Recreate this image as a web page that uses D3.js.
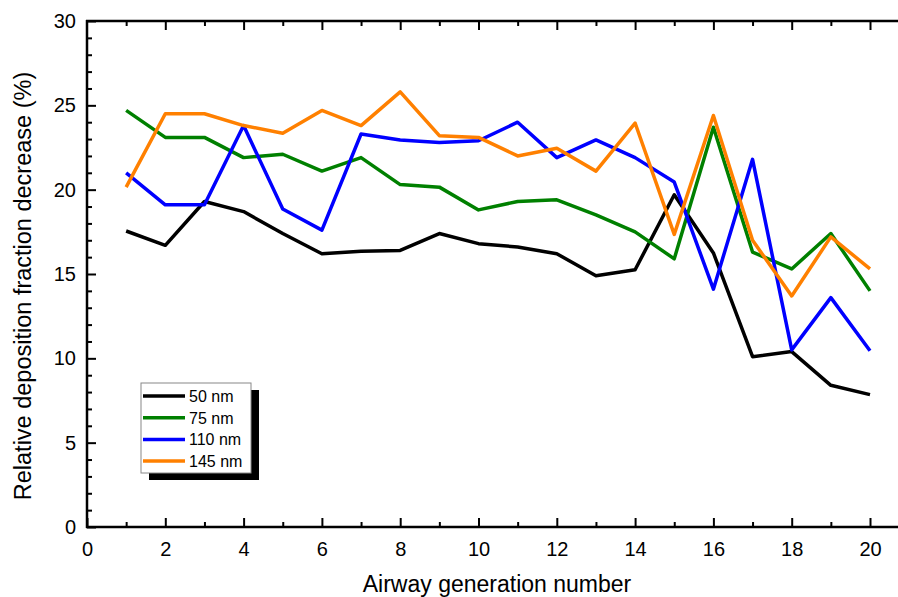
<!DOCTYPE html>
<html>
<head>
<meta charset="utf-8">
<style>
body { margin: 0; background: #fff; }
svg { display: block; font-family: Arial, "Liberation Sans", sans-serif; }
.axis path, .axis line { stroke: #000; stroke-width: 2; }
.axis text { font-size: 20px; fill: #000; }
</style>
</head>
<body>
<script src="https://d3js.org/d3.v7.min.js"></script>
<script>
'use strict';
// airway generations
const generations = d3.range(1, 21);
const seriesNames = ['50 nm', '75 nm', '110 nm', '145 nm'];
const seriesColors = ['#000000', '#008000', '#0000ff', '#ff8000'];

const nm50 = [17.55, 16.7, 19.3, 18.7, 17.4, 16.2, 16.35, 16.4, 17.4, 16.8,
  16.6, 16.2, 14.9, 15.25, 19.7, 16.25, 10.1, 10.4, 8.4, 7.85];
const nm75 = [24.7, 23.1, 23.1, 21.9, 22.1, 21.1, 21.9, 20.3, 20.15, 18.8,
  19.3, 19.4, 18.5, 17.5, 15.9, 23.7, 16.3, 15.3, 17.4, 14.0];
const nm110 = [21.0, 19.1, 19.1, 23.8, 18.85, 17.6, 23.3, 22.95, 22.8, 22.9,
  24.0, 21.9, 22.95, 21.9, 20.45, 14.1, 21.8, 10.5, 13.6, 10.45];
const nm145 = [20.15, 24.5, 24.5, 23.8, 23.35, 24.7, 23.8, 25.8, 23.2, 23.1,
  22.0, 22.45, 21.1, 23.95, 17.35, 24.4, 17.0, 13.7, 17.2, 15.3];
const seriesValues = [nm50, nm75, nm110, nm145];

const xTicks = [0, 2, 4, 6, 8, 10, 12, 14, 16, 18, 20];
const yTicks = [0, 5, 10, 15, 20, 25, 30];

const W = 898, H = 597;
const mLeft = 87, mTop = 21, mBottom = 527;

const x = d3.scaleLinear().domain([0, 20]).range([mLeft, 870]);
const y = d3.scaleLinear().domain([0, 30]).range([mBottom, mTop]);

const svg = d3.select('body').append('svg')
  .attr('width', W).attr('height', H);

// bottom axis
const xMinor = d3.range(1, 21, 2);
svg.append('g').attr('class', 'axis')
  .attr('transform', 'translate(0,' + mBottom + ')')
  .call(d3.axisBottom(x).tickValues(xMinor).tickSize(-5).tickFormat(''))
  .call(g => g.select('.domain').remove());
svg.append('g').attr('class', 'axis')
  .attr('transform', 'translate(0,' + mBottom + ')')
  .call(d3.axisBottom(x).tickValues(xTicks).tickSize(-9).tickPadding(15).tickFormat(d3.format('d')))
  .call(g => g.select('.domain').remove());
// top axis ticks
svg.append('g').attr('class', 'axis')
  .attr('transform', 'translate(0,' + mTop + ')')
  .call(d3.axisTop(x).tickValues(xMinor).tickSize(-5).tickFormat(''))
  .call(g => g.select('.domain').remove());
svg.append('g').attr('class', 'axis')
  .attr('transform', 'translate(0,' + mTop + ')')
  .call(d3.axisTop(x).tickValues(xTicks.filter(d => d > 0)).tickSize(-9).tickFormat(''))
  .call(g => g.select('.domain').remove());

// left axis
svg.append('g').attr('class', 'axis')
  .attr('transform', 'translate(' + mLeft + ',0)')
  .call(d3.axisLeft(y).tickValues(d3.range(0, 31).filter(d => d % 5)).tickSize(-5).tickFormat(''))
  .call(g => g.select('.domain').remove());
svg.append('g').attr('class', 'axis')
  .attr('transform', 'translate(' + mLeft + ',0)')
  .call(d3.axisLeft(y).tickValues(yTicks).tickSize(-9).tickPadding(11))
  .call(g => g.select('.domain').remove());

// frame lines
svg.append('line').attr('x1', mLeft).attr('x2', mLeft).attr('y1', mTop - 1).attr('y2', mBottom + 1)
  .attr('stroke', '#000').attr('stroke-width', 2.5);
svg.append('line').attr('x1', mLeft - 1).attr('x2', W).attr('y1', mBottom).attr('y2', mBottom)
  .attr('stroke', '#000').attr('stroke-width', 2.5);
svg.append('line').attr('x1', mLeft - 1).attr('x2', W).attr('y1', mTop).attr('y2', mTop)
  .attr('stroke', '#000').attr('stroke-width', 2.5);

// series lines
const line = d3.line().x((d, i) => x(generations[i])).y(d => y(d));
seriesValues.forEach((vals, k) => {
  svg.append('path').datum(vals)
    .attr('d', line)
    .attr('fill', 'none')
    .attr('stroke', seriesColors[k])
    .attr('stroke-width', 3.5)
    .attr('stroke-linejoin', 'round');
});

// axis titles
svg.append('text')
  .attr('transform', 'translate(31,286) rotate(-90)')
  .attr('text-anchor', 'middle')
  .attr('font-size', 23.5)
  .text('Relative deposition fraction decrease (%)');
svg.append('text')
  .attr('x', 497).attr('y', 592)
  .attr('text-anchor', 'middle')
  .attr('font-size', 23)
  .text('Airway generation number');

// legend
const lg = svg.append('g').attr('transform', 'translate(141,383)');
lg.append('rect').attr('x', 8).attr('y', 7).attr('width', 110).attr('height', 90).attr('fill', '#000');
lg.append('rect').attr('x', 0).attr('y', 0).attr('width', 110).attr('height', 90)
  .attr('fill', '#fff').attr('stroke', '#888').attr('stroke-width', 1);
seriesNames.forEach((name, k) => {
  const yy = 13 + k * 21.7;
  lg.append('line').attr('x1', 2).attr('x2', 44).attr('y1', yy).attr('y2', yy)
    .attr('stroke', seriesColors[k]).attr('stroke-width', 3.5);
  lg.append('text').attr('x', 48).attr('y', yy + 6)
    .attr('font-size', 16).text(name);
});
</script>
</body>
</html>
